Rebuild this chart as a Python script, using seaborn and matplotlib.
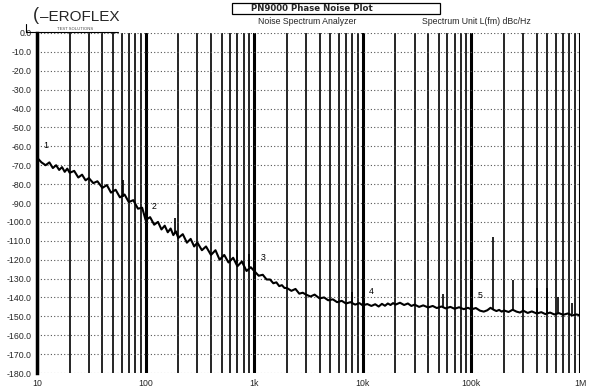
import matplotlib
matplotlib.use("Agg")
import matplotlib.pyplot as plt
from matplotlib.ticker import FixedLocator, LogLocator, NullFormatter
from matplotlib.lines import Line2D
from matplotlib.patches import Rectangle
import seaborn as sns
import pandas as pd

# ---------------- data ----------------
freq_hz = [
    10, 11, 12, 13, 14, 15, 16, 17, 18, 19, 20, 22, 24, 26, 28, 30, 33, 36, 40, 44, 48, 53, 58, 64, 70, 77, 85, 93,
    100, 110, 120, 130, 140, 150, 160, 170, 180, 190, 200, 220, 240, 260, 280, 300, 330, 360, 400, 440, 480, 530, 580, 640, 700, 770, 850, 930,
    1000, 1100, 1200, 1300, 1400, 1500, 1600, 1700, 1800, 1900, 2000, 2200, 2400, 2600, 2800, 3000, 3300, 3600, 4000, 4400, 4800, 5300, 5800, 6400, 7000, 7700, 8500, 9300,
    10000, 11000, 12000, 13000, 14000, 15000, 16000, 17000, 18000, 19000, 20000, 22000, 24000, 26000, 28000, 30000, 33000, 36000, 40000, 44000, 48000, 53000, 58000, 64000, 70000, 77000, 85000, 93000,
    100000, 110000, 120000, 130000, 140000, 150000, 160000, 170000, 180000, 190000, 200000, 220000, 240000, 260000, 280000, 300000, 330000, 360000, 400000, 440000, 480000, 530000, 580000, 640000, 700000, 770000, 850000, 930000,
    1000000,
]
level_dbc = [
    -66, -68.5, -70, -68.5, -71.5, -70, -72.5, -71, -73.5, -71.8, -74, -73, -76.5, -75, -78, -76.8, -79.5, -78.5, -82, -80.5, -84.5, -83, -87, -85.5, -89.5, -88.5, -93, -92.5,
    -99, -97.5, -101.5, -100, -104, -102, -105.5, -103.5, -107, -105, -108.5, -106.5, -111, -109, -113, -111, -115, -113, -117.5, -115, -120, -117.5, -121.5, -119, -123.5, -121, -126, -124,
    -126, -128.5, -128, -130.5, -130.5, -132.5, -132, -134, -133.5, -135, -135, -136.5, -135.5, -138, -137.5, -138.5, -139.5, -138.5, -140.5, -140, -141.5, -141, -142.5, -141.8, -143.2, -142.5, -143.8, -143,
    -144.2, -143.5, -144.5, -143.6, -144.8, -143.4, -144.4, -143.2, -144, -143, -143.8, -142.8, -144, -143.2, -144.5, -143.8, -145, -144.2, -145.3, -144.5, -145.6, -144.8, -145.8, -145, -146, -145.2, -146.2, -145.5,
    -146.3, -145.6, -147, -147.5, -146.8, -145.5, -146.5, -147.2, -146.6, -147.5, -146.9, -147.7, -146.5, -147.5, -148, -147, -148.2, -147.4, -148.5, -147.8, -148.8, -148, -149, -148.3, -149.2, -148.5, -149.5, -149,
    -149.5,
]

spur_hz = [62, 187, 700, 900, 7900, 55000, 158000, 241000, 300000, 402000, 497000, 627000, 850000]
spur_base_dbc = [-87, -106, -122, -124, -142.5, -145, -146, -147, -147, -148, -148, -148.5, -149]
spur_top_dbc = [-78, -98, -115, -117, -137, -138, -108, -131, -140, -135, -135, -140, -143]

marker_names = ["1", "2", "3", "4", "5"]
marker_hz = [10, 100, 1000, 10000, 100000]
marker_dbc = [-67, -99, -126, -144, -146]

y_ticks = [0, -10, -20, -30, -40, -50, -60, -70, -80, -90, -100, -110, -120, -130, -140, -150, -160, -170, -180]
y_tick_labels = ["0.0", "-10.0", "-20.0", "-30.0", "-40.0", "-50.0", "-60.0", "-70.0", "-80.0", "-90.0",
                 "-100.0", "-110.0", "-120.0", "-130.0", "-140.0", "-150.0", "-160.0", "-170.0", "-180.0"]
x_ticks = [10, 100, 1000, 10000, 100000, 1000000]
x_tick_labels = ["10", "100", "1k", "10k", "100k", "1M"]

title_text = "PN9000 Phase Noise Plot"
subtitle_left = "Noise Spectrum Analyzer"
subtitle_right = "Spectrum Unit L(fm) dBc/Hz"

# ---------------- plot ----------------
sns.set_style("white")
plt.rcParams["font.family"] = ["Liberation Sans", "DejaVu Sans"]

W, H = 589, 390
fig = plt.figure(figsize=(W / 100, H / 100), dpi=100)
ax = fig.add_axes([37 / W, 1 - 373 / H, (580 - 37) / W, (373 - 33) / H])

df = pd.DataFrame({"freq": freq_hz, "level": level_dbc})
sns.lineplot(data=df, x="freq", y="level", ax=ax, color="black", lw=1.5,
             estimator=None, sort=False, zorder=5)
ax.vlines(spur_hz, spur_base_dbc, spur_top_dbc, color="black", lw=1.2, zorder=5)

ax.set_xscale("log")
ax.set_xlim(10, 1e6)
ax.set_ylim(-180, 0)

ax.xaxis.set_major_locator(FixedLocator(x_ticks))
ax.set_xticklabels(x_tick_labels)
ax.xaxis.set_minor_locator(LogLocator(base=10, subs=[2, 3, 4, 5, 6, 7, 8, 9]))
ax.xaxis.set_minor_formatter(NullFormatter())
ax.yaxis.set_major_locator(FixedLocator(y_ticks))
ax.set_yticklabels(y_tick_labels)

ax.grid(which="major", axis="x", color="black", lw=2.2, ls="-")
ax.grid(which="minor", axis="x", color="black", lw=1.2, ls="-")
ax.grid(which="major", axis="y", color="#555555", lw=0.8, ls=(0, (1, 2)))
ax.set_axisbelow(True)

ax.tick_params(axis="both", which="major", direction="out", length=3, width=1,
               labelsize=6.3, pad=1, color="black")
ax.tick_params(axis="x", which="minor", length=0)
ax.set_xlabel("")
ax.set_ylabel("")

for s in ["top", "right", "bottom"]:
    ax.spines[s].set_visible(False)
ax.spines["left"].set_linewidth(2.5)
ax.spines["left"].set_color("black")

for name, fx, fy in zip(marker_names, marker_hz, marker_dbc):
    ax.annotate(name, (fx, fy), xytext=(4.5, 8), textcoords="offset points",
                fontsize=6.3, color="black", zorder=6)

# ---------------- header ----------------
fig.text(33 / W, 1 - 16 / H, "(", fontsize=13, ha="left", va="center")
fig.text(40 / W, 1 - 17 / H, "–EROFLEX", fontsize=11, ha="left", va="center")
fig.text(57 / W, 1 - 29 / H, "TEST SOLUTIONS", fontsize=3, ha="left", va="center", color="#444444")
fig.add_artist(Line2D([26 / W, 118 / W], [1 - 32 / H, 1 - 32 / H], color="black", lw=0.8))
fig.add_artist(Line2D([26 / W, 26 / W], [1 - 32 / H, 1 - 24 / H], color="black", lw=0.8))

fig.add_artist(Rectangle((232 / W, 1 - 14 / H), (440 - 232) / W, 11 / H,
                         fill=False, edgecolor="black", lw=0.9, transform=fig.transFigure))
fig.text(312 / W, 1 - 8.5 / H, title_text, fontsize=6.2, fontweight="bold",
         family=["DejaVu Sans"], ha="center", va="center")
fig.text(307 / W, 1 - 21 / H, subtitle_left, fontsize=6.3, ha="center", va="center")
fig.text(476 / W, 1 - 21 / H, subtitle_right, fontsize=6.3, ha="center", va="center")

fig.savefig("out.png", dpi=100, facecolor="white")
